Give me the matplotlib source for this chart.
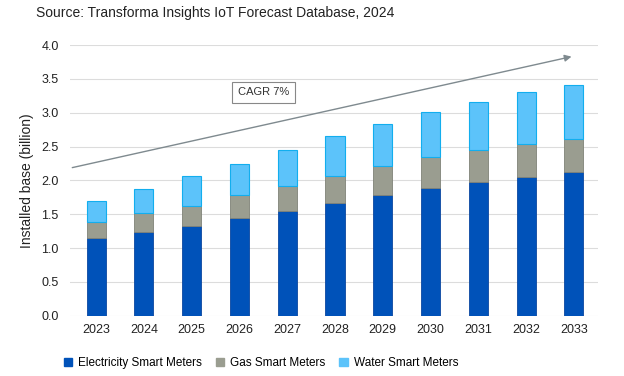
import numpy as np
import matplotlib
matplotlib.use("Agg")
import matplotlib.pyplot as plt
from matplotlib.patches import Patch

years = ["2023", "2024", "2025", "2026", "2027", "2028", "2029", "2030", "2031", "2032", "2033"]
electricity = [1.15, 1.24, 1.33, 1.44, 1.55, 1.67, 1.79, 1.89, 1.98, 2.05, 2.12]
gas_top = [1.39, 1.52, 1.63, 1.78, 1.92, 2.07, 2.21, 2.34, 2.45, 2.54, 2.62]
total = [1.69, 1.87, 2.06, 2.25, 2.45, 2.65, 2.83, 3.01, 3.16, 3.30, 3.41]

gas = [g - e for g, e in zip(gas_top, electricity)]
water = [t - g for t, g in zip(total, gas_top)]

c_elec = "#0052B9"
c_gas = "#9A9D90"
c_water = "#5CC3FA"

plt.rcParams["font.family"] = ["Liberation Sans", "DejaVu Sans"]

fig = plt.figure(figsize=(6.24, 3.76), dpi=100)
ax = fig.add_axes([0.112, 0.16, 0.846, 0.72])

x = np.arange(len(years))
w = 0.4
ax.bar(x, electricity, w, color=c_elec, edgecolor="#0A47A0", linewidth=0.6, zorder=3)
ax.bar(x, gas, w, bottom=electricity, color=c_gas, edgecolor="#7f8277", linewidth=0.6, zorder=3)
ax.bar(x, water, w, bottom=gas_top, color=c_water, edgecolor="#12AEEE", linewidth=0.8, zorder=3)

ax.set_xlim(-0.55, 10.5)
ax.set_ylim(0, 4.0)
ax.set_yticks(np.arange(0, 4.01, 0.5))
ax.set_yticklabels([f"{v:.1f}" for v in np.arange(0, 4.01, 0.5)])
ax.set_xticks(x)
ax.set_xticklabels(years)
ax.tick_params(length=0, labelsize=9, colors="#222222")
ax.tick_params(axis="x", pad=6)
ax.tick_params(axis="y", pad=8)
ax.grid(axis="y", color="#dcdcdc", linewidth=0.8, zorder=0)
for s in ax.spines.values():
    s.set_visible(False)

ax.set_ylabel("Installed base (billion)", fontsize=10, color="#222222", labelpad=5)

# trend arrow
ax.annotate("", xy=(9.95, 3.83), xytext=(-0.5, 2.19),
            arrowprops=dict(arrowstyle="-|>", color="#7f8a8f", lw=1.0,
                            mutation_scale=10, shrinkA=0, shrinkB=0), zorder=4)
ax.text(3.5, 3.3, "CAGR 7%", ha="center", va="center", fontsize=8, color="#333333",
        bbox=dict(boxstyle="square,pad=0.5", fc="white", ec="#888888", lw=0.8), zorder=5)

fig.text(0.058, 0.965, "Source: Transforma Insights IoT Forecast Database, 2024",
         fontsize=10, color="#222222", ha="left", va="center")

handles = [Patch(color=c_elec, label="Electricity Smart Meters"),
           Patch(color=c_gas, label="Gas Smart Meters"),
           Patch(color=c_water, label="Water Smart Meters")]
fig.legend(handles=handles, loc="center", bbox_to_anchor=(0.418, 0.035), ncol=3,
           frameon=False, fontsize=8.5, handlelength=0.7, handleheight=0.7,
           columnspacing=1.2, handletextpad=0.5)

fig.savefig("out.png", dpi=100, facecolor="white")
